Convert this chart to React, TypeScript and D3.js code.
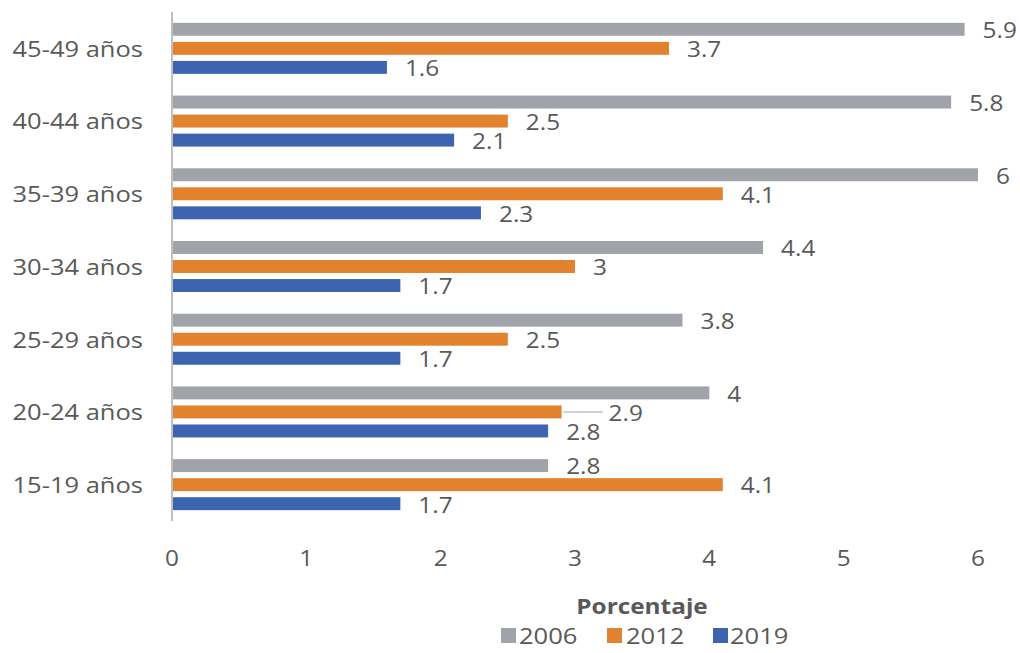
import React from "react";
import * as d3 from "d3";

const categories = ["45-49 años", "40-44 años", "35-39 años", "30-34 años", "25-29 años", "20-24 años", "15-19 años"];
const seriesNames = ["2006", "2012", "2019"];
const values2006 = [5.9, 5.8, 6, 4.4, 3.8, 4, 2.8];
const values2012 = [3.7, 2.5, 4.1, 3, 2.5, 2.9, 4.1];
const values2019 = [1.6, 2.1, 2.3, 1.7, 1.7, 2.8, 1.7];
const xTicks = [0, 1, 2, 3, 4, 5, 6];
const colors = ["#A0A4AA", "#E2822E", "#3C64B1"];
const axisTitle = "Porcentaje";

const W = 1020;
const H = 653;
const FONT = "'Open Sans', sans-serif";
const TEXT = "#595959";
const SX = 1.16;

function Txt(props: { x: number; y: number; size: number; anchor?: string; bold?: boolean; children: React.ReactNode }) {
  const { x, y, size, anchor = "start", bold = false, children } = props;
  return (
    <text
      transform={`translate(${x},${y}) scale(${SX},1)`}
      textAnchor={anchor}
      dominantBaseline="central"
      fontSize={size}
      fontWeight={bold ? "bold" : "normal"}
      fill={TEXT}
    >
      {children}
    </text>
  );
}

export default function App() {
  const series = [values2006, values2012, values2019];
  const x = d3.scaleLinear().domain([0, 6]).range([172, 978]);
  const y = d3.scaleBand<string>().domain(categories).range([12, 521]).padding(0);
  const inner = d3.scaleBand<string>().domain(seriesNames).range([-25.5, 25.5]).paddingInner(0.32).paddingOuter(0);
  const fmt = (v: number) => String(v);

  const legendItems = [
    { name: seriesNames[0], sq: 501, tx: 519 },
    { name: seriesNames[1], sq: 607, tx: 626 },
    { name: seriesNames[2], sq: 713, tx: 730 },
  ];

  return (
    <svg width={W} height={H} style={{ position: "absolute", left: 0, top: 0, background: "#fff" }} fontFamily={FONT}>
      {categories.map((c, i) => {
        const cy = (y(c) as number) + y.bandwidth() / 2;
        return (
          <g key={c}>
            <Txt x={143} y={cy} size={22} anchor="end">
              {c}
            </Txt>
            {series.map((vals, s) => {
              const by = cy + (inner(seriesNames[s]) as number);
              const bh = inner.bandwidth();
              const special = c === "20-24 años" && s === 1;
              const lx = x(vals[i]) + (special ? 47 : 18);
              return (
                <g key={s}>
                  <rect x={x(0)} y={by} width={x(vals[i]) - x(0)} height={bh} fill={colors[s]} />
                  {special && (
                    <line x1={x(vals[i]) + 2} x2={lx - 6} y1={by + bh / 2} y2={by + bh / 2} stroke="#BFBFBF" strokeWidth={1.5} />
                  )}
                  <Txt x={lx} y={by + bh / 2 + 1} size={21}>
                    {fmt(vals[i])}
                  </Txt>
                </g>
              );
            })}
          </g>
        );
      })}
      <line x1={x(0)} x2={x(0)} y1={12} y2={521} stroke="#BFBFBF" strokeWidth={2} />
      {xTicks.map((t) => (
        <Txt key={t} x={x(t)} y={558} size={21} anchor="middle">
          {t}
        </Txt>
      ))}
      <Txt x={642} y={606} size={21} anchor="middle" bold>
        {axisTitle}
      </Txt>
      {legendItems.map((l, i) => (
        <g key={l.name}>
          <rect x={l.sq} y={628} width={15} height={15} fill={colors[i]} />
          <Txt x={l.tx} y={636} size={22}>
            {l.name}
          </Txt>
        </g>
      ))}
    </svg>
  );
}
